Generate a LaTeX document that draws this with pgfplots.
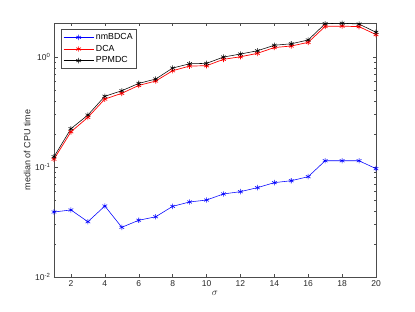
\documentclass[border=0pt]{standalone}
\usepackage{fontspec}
\setmainfont{Liberation Sans}
\usepackage{pgfplots}
\pgfplotsset{compat=1.18}
\begin{document}
\begin{tikzpicture}
\useasboundingbox (-54pt,-35pt) rectangle (361pt,277pt);
\begin{axis}[
  at={(0pt,0pt)}, anchor=south west,
  scale only axis, width=322pt, height=254pt,
  ymode=log, xmin=1, xmax=20, ymin=0.01, ymax=2.04,
  xtick={2,4,...,20},
  ytick={0.01,0.1,1},
  yticklabels={10\textsuperscript{-2},10\textsuperscript{-1},10\textsuperscript{0}},
  /pgf/number format/assume math mode=true,
  tick align=inside,
  axis line style={draw=black!70, line width=0.5pt},
  tick style={draw=black!70, line width=0.4pt},
  major tick length=3.5pt, minor tick length=2pt,
  ticklabel style={font=\fontsize{8.5}{10}\selectfont, text=black!85},
  xlabel={$\sigma$}, ylabel={median of CPU time},
  label style={font=\fontsize{9}{10}\selectfont, text=black!85},
  xlabel style={font=\fontsize{10}{11}\selectfont, yshift=2pt},
  ylabel style={yshift=-2pt},
  legend style={at={(0.022,0.975)}, anchor=north west, draw=black!70,
    font=\fontsize{8.8}{10}\selectfont, row sep=0pt, inner sep=2pt, cells={anchor=west}},
  legend image code/.code={\draw[#1] (0pt,0pt) -- (30pt,0pt); \draw[#1, only marks] plot coordinates {(15pt,0pt)};},
]
\addplot[blue, line width=0.55pt, mark=asterisk, mark size=2.7pt] coordinates {
(1,0.0390)(2,0.0407)(3,0.0318)(4,0.0442)(5,0.0283)(6,0.0328)(7,0.0353)(8,0.0439)(9,0.0481)(10,0.0501)
(11,0.0569)(12,0.0597)(13,0.0649)(14,0.0721)(15,0.0751)(16,0.0817)(17,0.114)(18,0.114)(19,0.114)(20,0.0966)};
\addlegendentry{nmBDCA}
\addplot[red, line width=0.7pt, mark=asterisk, mark size=2.7pt] coordinates {
(1,0.118)(2,0.209)(3,0.283)(4,0.415)(5,0.468)(6,0.552)(7,0.605)(8,0.751)(9,0.828)(10,0.834)
(11,0.953)(12,1.006)(13,1.08)(14,1.22)(15,1.26)(16,1.36)(17,1.90)(18,1.91)(19,1.89)(20,1.60)};
\addlegendentry{DCA}
\addplot[black, line width=0.55pt, mark=asterisk, mark size=2.7pt] coordinates {
(1,0.124)(2,0.223)(3,0.297)(4,0.440)(5,0.494)(6,0.576)(7,0.631)(8,0.794)(9,0.869)(10,0.876)
(11,1.00)(12,1.065)(13,1.14)(14,1.28)(15,1.32)(16,1.43)(17,2.01)(18,2.03)(19,1.995)(20,1.68)};
\addlegendentry{PPMDC}
\end{axis}
\end{tikzpicture}
\end{document}
